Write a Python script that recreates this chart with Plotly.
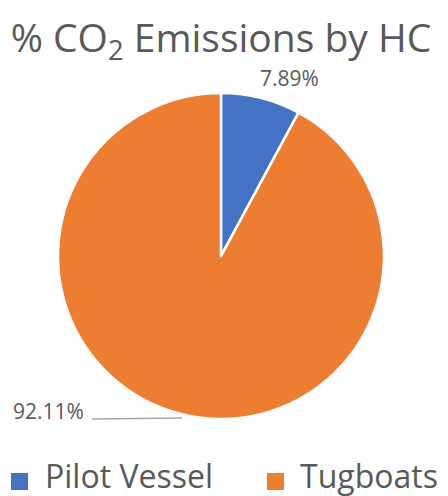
import plotly.graph_objects as go

categories = ["Pilot Vessel", "Tugboats"]
shares = [7.89, 92.11]
colors = ["#4472C4", "#ED7D31"]

text_color = "#595959"
font_family = "Open Sans, Liberation Sans, sans-serif"
W, H = 448, 496

# pie placement (paper fractions)
dom_x = [0.1295, 0.857]
dom_y = [0.155, 0.8125]

fig = go.Figure(
    go.Pie(
        labels=categories,
        values=shares,
        sort=False,
        direction="clockwise",
        rotation=0,
        marker=dict(colors=colors, line=dict(color="white", width=2.5)),
        textinfo="none",
        hoverinfo="label+percent",
        domain=dict(x=dom_x, y=dom_y),
        showlegend=False,
    )
)

total = sum(shares)
pct_text = [f"{v / total * 100:.2f}%" for v in shares]


def px(x, y):
    """pixel position from the top-left corner -> paper fractions"""
    return x / W, 1 - y / H


# data labels
lx, ly = px(289, 78)
fig.add_annotation(
    x=lx, y=ly, xref="paper", yref="paper", xanchor="center", yanchor="middle",
    text=pct_text[0], showarrow=False,
    font=dict(size=21, color=text_color, family=font_family),
)
lx, ly = px(48, 411)
fig.add_annotation(
    x=lx, y=ly, xref="paper", yref="paper", xanchor="center", yanchor="middle",
    text=pct_text[1], showarrow=False,
    font=dict(size=21, color=text_color, family=font_family),
)
# leader line for the large slice
x0, y0 = px(92, 419)
x1, y1 = px(182, 418)
fig.add_shape(
    type="line", xref="paper", yref="paper",
    x0=x0, y0=y0, x1=x1, y1=y1,
    line=dict(color="#A6A6A6", width=1.3),
)

# legend: colour square + label for each category
legend_x = [(11, 43), (267, 298)]
for (sq_x, txt_x), name, col in zip(legend_x, categories, colors):
    a0, b0 = px(sq_x, 490)
    a1, b1 = px(sq_x + 17, 473)
    fig.add_shape(
        type="rect", xref="paper", yref="paper",
        x0=a0, y0=b0, x1=a1, y1=b1,
        fillcolor=col, line=dict(width=0),
    )
    tx, ty = px(txt_x, 475)
    fig.add_annotation(
        x=tx, y=ty, xref="paper", yref="paper", xanchor="left", yanchor="middle",
        text=name, showarrow=False,
        font=dict(size=32, color=text_color, family=font_family),
    )

tx, ty = px(221, 38)
fig.update_layout(
    width=W,
    height=H,
    margin=dict(l=0, r=0, t=0, b=0),
    paper_bgcolor="white",
    plot_bgcolor="white",
    showlegend=False,
    title=dict(
        text="% CO<sub>2</sub> Emissions by HC",
        x=tx, xanchor="center",
        y=ty, yanchor="middle",
        font=dict(size=39, color=text_color, family=font_family),
    ),
)

fig.write_html("out.html")
